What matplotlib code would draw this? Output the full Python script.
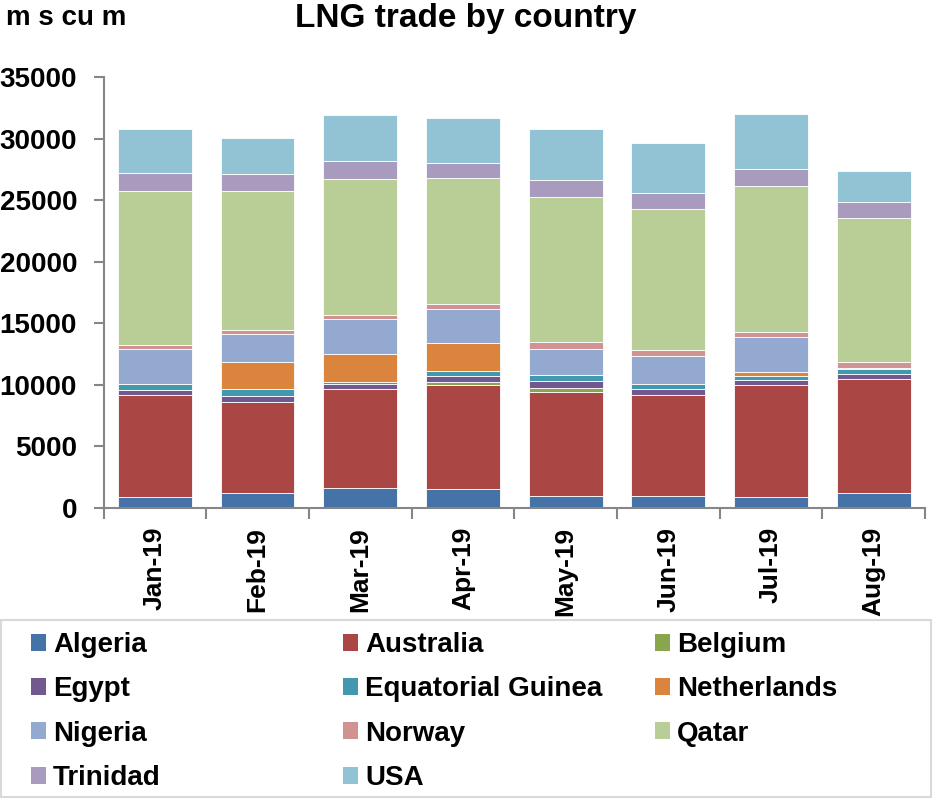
import matplotlib
matplotlib.use("Agg")
import matplotlib.pyplot as plt
from matplotlib.patches import Rectangle, Patch
import numpy as np

plt.rcParams['font.family'] = ['Liberation Sans', 'DejaVu Sans']
plt.rcParams['font.weight'] = 'bold'

months = ["Jan-19", "Feb-19", "Mar-19", "Apr-19", "May-19", "Jun-19", "Jul-19", "Aug-19"]

algeria     = [870, 1190, 1600, 1545, 1000, 1000, 870, 1190]
australia   = [8280, 7445, 8040, 8445, 8445, 8150, 9090, 9285]
belgium     = [0, 0, 0, 215, 300, 0, 0, 0]
egypt       = [460, 485, 405, 540, 595, 540, 460, 380]
eq_guinea   = [435, 520, 210, 405, 460, 405, 325, 405]
netherlands = [0, 2240, 2275, 2275, 0, 0, 325, 135]
nigeria     = [2845, 2275, 2845, 2760, 2135, 2250, 2845, 0]
norway      = [350, 300, 325, 405, 570, 515, 380, 485]
qatar       = [12500, 11285, 11045, 10210, 11750, 11395, 11855, 11650]
trinidad    = [1465, 1360, 1435, 1245, 1410, 1355, 1380, 1350]
usa         = [3575, 2920, 3735, 3600, 4115, 4060, 4440, 2490]

series_names = ["Algeria", "Australia", "Belgium", "Egypt", "Equatorial Guinea",
                "Netherlands", "Nigeria", "Norway", "Qatar", "Trinidad", "USA"]
series_vals = [algeria, australia, belgium, egypt, eq_guinea, netherlands,
               nigeria, norway, qatar, trinidad, usa]
colors = ["#4572A7", "#AA4643", "#89A54E", "#71588F", "#4198AF", "#DB843D",
          "#93A9CF", "#D19392", "#B9CD96", "#A99BBD", "#92C3D4"]

W, H = 933, 801
fig = plt.figure(figsize=(W / 100, H / 100), dpi=100)
fig.patch.set_facecolor("white")

ax_l, ax_r, ax_t, ax_b = 103.5, 925, 77, 508
ax = fig.add_axes([ax_l / W, 1 - ax_b / H, (ax_r - ax_l) / W, (ax_b - ax_t) / H])

x = np.arange(len(months))
bottom = np.zeros(len(months))
for name, vals, c in zip(series_names, series_vals, colors):
    v = np.array(vals, dtype=float)
    ax.bar(x, v, 0.72, bottom=bottom, color=c, edgecolor="white",
           linewidth=0.6, label=name)
    bottom += v

ax.set_xlim(-0.5, len(months) - 0.5)
ax.set_ylim(0, 35000)
ax.set_yticks(np.arange(0, 35001, 5000))
ax.set_yticklabels([str(v) for v in range(0, 35001, 5000)], fontsize=20, fontweight="bold")
ax.set_xticks(x)
ax.set_xticklabels(months, rotation=90, fontsize=19, fontweight="bold")
ax.set_xticks(np.arange(-0.5, len(months), 1.0), minor=True)

spine_c = "#868686"
for s in ["top", "right"]:
    ax.spines[s].set_visible(False)
for s in ["left", "bottom"]:
    ax.spines[s].set_color(spine_c)
    ax.spines[s].set_linewidth(1.5)
ax.tick_params(axis="y", direction="out", length=7, width=1.5, color=spine_c, pad=12)
ax.tick_params(axis="x", which="major", length=0, pad=13.5)
ax.tick_params(axis="x", which="minor", direction="out", length=8, width=1.5, color=spine_c)

fig.text(466 / W, 1 - 18 / H, "LNG trade by country", ha="center", va="center",
         fontsize=24, fontweight="bold")
fig.text(6 / W, 1 - 18 / H, "m s cu m", ha="left", va="center",
         fontsize=20, fontweight="bold")

# legend frame
fig.patches.append(Rectangle((1 / W, 1 - 797 / H), 930 / W, 177 / H,
                             transform=fig.transFigure, fill=False,
                             edgecolor="#D9D9D9", linewidth=1.5))

columns = [["Algeria", "Egypt", "Nigeria", "Trinidad"],
           ["Australia", "Equatorial Guinea", "Norway", "USA"],
           ["Belgium", "Netherlands", "Qatar"]]
col_x = [31, 343, 655]
for cx, names in zip(col_x, columns):
    hs = [Patch(facecolor=colors[series_names.index(n)], edgecolor="none") for n in names]
    fig.legend(hs, names, loc="upper left", bbox_to_anchor=(cx / W, 1 - 632 / H),
               frameon=False, prop={"weight": "bold", "size": 20},
               handlelength=0.55, handleheight=0.55, handletextpad=0.25,
               labelspacing=0.66, borderpad=0, borderaxespad=0)

fig.savefig("out.png", dpi=100, facecolor="white")
